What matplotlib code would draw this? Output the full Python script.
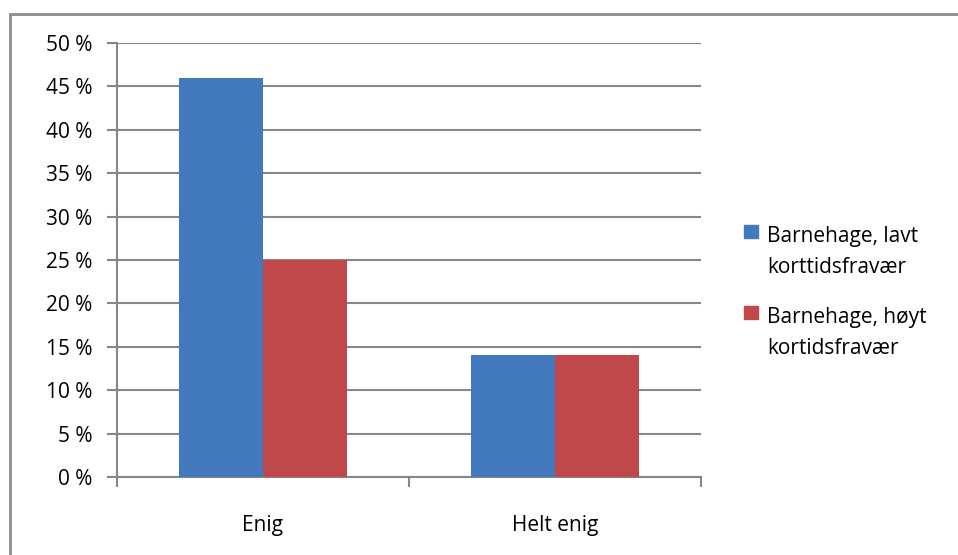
import matplotlib.pyplot as plt
import matplotlib.patches as mpatches
import numpy as np

categories = ['Enig', 'Helt enig']
lavt = [46, 14]
hoyt = [25, 14]
series_names = ['Barnehage, lavt\nkorttidsfravær', 'Barnehage, høyt\nkortidsfravær']
yticks = [0, 5, 10, 15, 20, 25, 30, 35, 40, 45, 50]

blue = '#4179BC'
red = '#C0474A'
grid = '#878787'

plt.rcParams['font.family'] = ['Open Sans', 'DejaVu Sans']
fs = 15
W, H = 958, 555

fig = plt.figure(figsize=(W / 100, H / 100), dpi=100)
ax = fig.add_axes([117 / W, 78 / H, 584 / W, 434 / H])

x = np.arange(len(categories)) + 0.5
w = 0.286
ax.bar(x - w / 2, lavt, w, color=blue, zorder=3)
ax.bar(x + w / 2, hoyt, w, color=red, zorder=3)

ax.set_xlim(0, 2)
ax.set_ylim(0, 50)
ax.set_yticks(yticks)
ax.set_yticklabels([f'{t} %' for t in yticks], fontsize=fs)
ax.yaxis.grid(True, color=grid, linewidth=1.5, zorder=0)

# category labels sit between the boundary tick marks
ax.set_xticks([0, 1, 2])
ax.set_xticklabels([])
ax.set_xticks(x, minor=True)
ax.set_xticklabels(categories, minor=True, fontsize=fs)
ax.tick_params(axis='x', which='minor', length=0, pad=27)
ax.tick_params(axis='x', which='major', length=7, width=1.5, color=grid, direction='out')
ax.tick_params(axis='y', length=7, width=1.5, color=grid, pad=11)

for side in ['top', 'right']:
    ax.spines[side].set_visible(False)
ax.spines['left'].set_color(grid)
ax.spines['left'].set_linewidth(1.5)
ax.spines['bottom'].set_color(grid)
ax.spines['bottom'].set_linewidth(1.5)

# legend drawn by hand so the swatch lines up with the first text line
for i, (name, col) in enumerate(zip(series_names, [blue, red])):
    top = 225 + i * 81
    fig.patches.append(mpatches.Rectangle((744 / W, 1 - (top + 13) / H), 14 / W, 13 / H,
                                          transform=fig.transFigure, color=col))
    for j, line in enumerate(name.split('\n')):
        base = 242 + i * 81 + j * 31
        fig.text(767 / W, 1 - base / H, line, fontsize=fs, va='baseline', ha='left')

# outer chart frame, cut off on the right and bottom
fig.patches.append(mpatches.Rectangle((10 / W, -0.1), 2, (H - 14) / H + 0.1,
                                      transform=fig.transFigure, fill=False,
                                      edgecolor='#8c8c8c', linewidth=2))

fig.savefig('out.png', dpi=100)
